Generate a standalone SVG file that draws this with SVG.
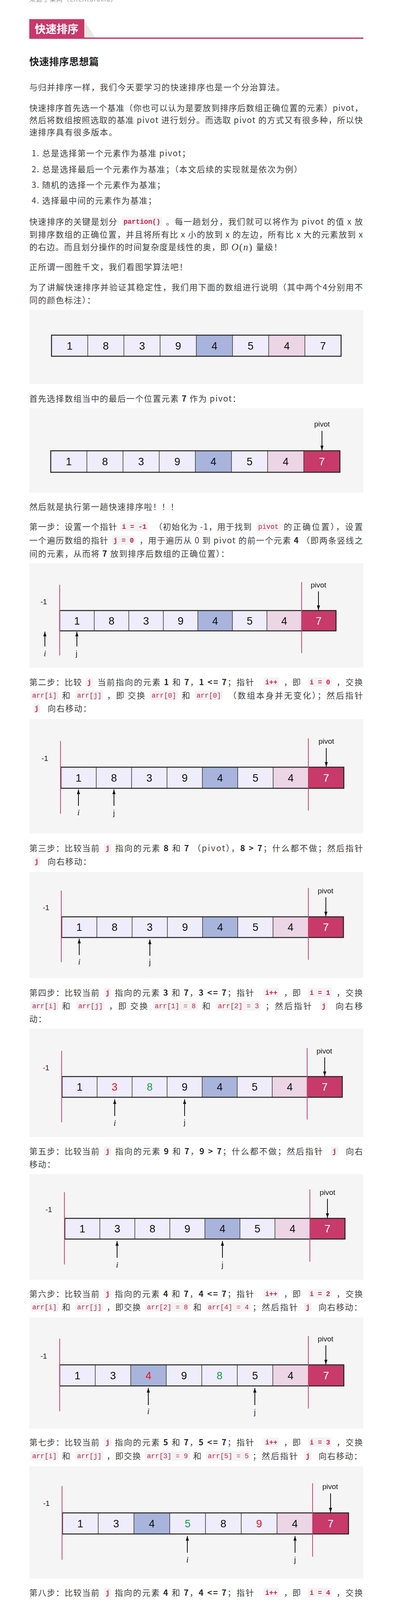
<svg xmlns="http://www.w3.org/2000/svg" width="1007" height="4900" viewBox="0 0 1007 4900">
<defs>
<marker id="ah" markerUnits="userSpaceOnUse" markerWidth="12" markerHeight="8" viewBox="0 0 12 8" refX="12" refY="4" orient="auto"><path d="M0,0 L12,4 L0,8 z" fill="#111"/></marker>
</defs>
<style>
.t{font-family:"Noto Sans CJK SC","Liberation Sans",sans-serif;font-size:21px;fill:#3f3f3f;letter-spacing:1.6px}
.b{font-weight:bold;fill:#2b2b2b}
.cb{fill:#f3f3f3}
.c{font-family:"Liberation Mono","DejaVu Sans Mono",monospace;font-size:17.5px;fill:#c7254e}
.cbd{font-weight:bold}
.box{fill:#f5f5f5}
.cl{fill:#efedfc}.cbl{fill:#a8b4dc}.cp{fill:#ecd5e4}.cc{fill:#c83a69}
.sep{stroke:#333;stroke-width:1.5;fill:none}
.edge{fill:none;stroke:#222;stroke-width:2.5}
.num{font-family:"Liberation Sans",Arial,sans-serif;font-size:27px;fill:#111;text-anchor:middle}
.w{fill:#fff}.r{fill:#e8141e}.g{fill:#12a150}
.pl{stroke:#c8466f;stroke-width:2}
.ar{stroke:#111;stroke-width:2;marker-end:url(#ah)}
.lb{font-family:"Liberation Sans",Arial,sans-serif;font-size:19px;fill:#222;text-anchor:middle}
.li{font-family:"Liberation Serif",serif;font-style:italic;font-size:22px;fill:#222;text-anchor:middle}
.lj{font-family:"Liberation Sans",Arial,sans-serif;font-size:20px;fill:#222;text-anchor:middle}
</style>
<rect width="1007" height="4900" fill="#fff"/>

<g id="source"><text class="t" x="75" y="4" style="font-size:16px;fill:#999;letter-spacing:0" textLength="224">来源于某网（LifeAturaxia）</text></g>

<g id="header">
<rect x="75" y="49" width="141" height="50" fill="#c8396a"/>
<polygon points="216,52 244,97 216,97" fill="#ebe7e5"/>
<rect x="75" y="96" width="856" height="3.5" fill="#c8396a"/>
<text x="89" y="85" style="font-family:'Noto Sans CJK SC',sans-serif;font-size:28px;font-weight:bold;fill:#fff">快速排序</text>
</g>

<g id="intro">
<text x="75" y="167" style="font-family:'Noto Sans CJK SC',sans-serif;font-size:25px;font-weight:bold;fill:#222;letter-spacing:0.5px">快速排序思想篇</text>
<text class="t" x="75" y="231">与归并排序一样，我们今天要学习的快速排序也是一个分治算法。</text>
<text class="t" x="75" y="284" textLength="856">快速排序首先选一个基准（你也可以认为是要放到排序后数组正确位置的元素）pivot，</text>
<text class="t" x="75" y="315" textLength="856">然后将数组按照选取的基准 pivot 进行划分。而选取 pivot 的方式又有很多种，所以快</text>
<text class="t" x="75" y="346">速排序具有很多版本。</text>
<text class="t" x="81" y="400">1. 总是选择第一个元素作为基准 pivot；</text>
<text class="t" x="81" y="441">2. 总是选择最后一个元素作为基准；（本文后续的实现就是依次为例）</text>
<text class="t" x="81" y="481">3. 随机的选择一个元素作为基准；</text>
<text class="t" x="81" y="521">4. 选择最中间的元素作为基准；</text>
<text class="t" x="75" y="575">快速排序的关键是划分</text>
<rect class="cb" x="312" y="555" width="103.5" height="24" rx="4"/><text class="c cbd" x="316.5" y="573">partion()</text>
<text class="t" x="425" y="575" textLength="506">。每一趟划分，我们就可以将作为 pivot 的值 x 放</text>
<text class="t" x="75" y="608" textLength="856">到排序数组的正确位置，并且将所有比 x 小的放到 x 的左边，所有比 x 大的元素放到 x</text>
<text class="t" x="75" y="640" textLength="512">的右边。而且划分操作的时间复杂度是线性的奥，即</text>
<text x="593" y="641" style="font-family:'Liberation Serif',serif;font-size:25px;fill:#3f3f3f" textLength="53"><tspan font-style="italic">O</tspan>(<tspan font-style="italic">n</tspan>)</text>
<text class="t" x="656" y="640">量级！</text>
<text class="t" x="75" y="691">正所谓一图胜千文，我们看图学算法吧！</text>
<text class="t" x="75" y="743" textLength="856">为了讲解快速排序并验证其稳定性，我们用下面的数组进行说明（其中两个4分别用不</text>
<text class="t" x="75" y="776">同的颜色标注）：</text>
</g>

<g id="fig1">
<rect class="box" x="75" y="793" width="856" height="190"/>
<rect class="cl" x="132" y="858" width="742" height="54"/>
<rect class="cbl" x="503" y="858" width="92.75" height="54"/>
<rect class="cp" x="688.5" y="858" width="92.75" height="54"/>
<path class="sep" d="M224.75 858V912M317.5 858V912M410.25 858V912M503 858V912M595.75 858V912M688.5 858V912M781.25 858V912"/>
<rect class="edge" x="132" y="858" width="742" height="54"/>
<text class="num" y="894.5"><tspan x="178.4">1</tspan><tspan x="271.1">8</tspan><tspan x="363.9">3</tspan><tspan x="456.6">9</tspan><tspan x="549.4">4</tspan><tspan x="642.1">5</tspan><tspan x="734.9">4</tspan><tspan x="827.6">7</tspan></text>
</g>

<text class="t" x="75" y="1028">首先选择数组当中的最后一个位置元素 <tspan class="b">7</tspan> 作为 pivot：</text>

<g id="fig2">
<rect class="box" x="75" y="1045" width="856" height="216"/>
<rect class="cl" x="130" y="1154" width="741" height="55"/>
<rect class="cbl" x="500.5" y="1154" width="92.6" height="55"/>
<rect class="cp" x="685.75" y="1154" width="92.6" height="55"/>
<rect class="cc" x="778.4" y="1154" width="92.6" height="55"/>
<path class="sep" d="M222.6 1154V1209M315.25 1154V1209M407.9 1154V1209M500.5 1154V1209M593.1 1154V1209M685.75 1154V1209M778.4 1154V1209"/>
<rect class="edge" x="130" y="1154" width="741" height="55"/>
<text class="num" y="1191"><tspan x="176.3">1</tspan><tspan x="268.9">8</tspan><tspan x="361.6">3</tspan><tspan x="454.2">9</tspan><tspan x="546.8">4</tspan><tspan x="639.4">5</tspan><tspan x="732.1">4</tspan><tspan x="824.7" class="w">7</tspan></text>
<text class="lb" x="825" y="1092">pivot</text>
</g>

<text class="t" x="75" y="1305">然后就是执行第一趟快速排序啦！！！</text>

<g id="step1">
<text class="t" x="75" y="1356">第一步：设置一个指针</text>
<rect class="cb" x="308" y="1336" width="72" height="24" rx="4"/><text class="c cbd" x="312.5" y="1354">i = -1</text>
<text class="t" x="395" y="1356" textLength="251">（初始化为 -1，用于找到</text>
<rect class="cb" x="657" y="1336" width="61.5" height="24" rx="4"/><text class="c" x="661.5" y="1354">pivot</text>
<text class="t" x="727" y="1356" textLength="204">的正确位置），设置</text>
<text class="t" x="75" y="1391">一个遍历数组的指针</text>
<rect class="cb" x="286" y="1371" width="61.5" height="24" rx="4"/><text class="c cbd" x="290.5" y="1389">j = 0</text>
<text class="t" x="357" y="1391" textLength="574">，用于遍历从 0 到 pivot 的前一个元素 <tspan class="b">4</tspan> （即两条竖线之</text>
<text class="t" x="75" y="1425">间的元素，从而将 <tspan class="b">7</tspan> 放到排序后数组的正确位置）：</text>
</g>

<g id="fig3">
<rect class="box" x="75" y="1442" width="856" height="267"/>
<rect class="cl" x="153" y="1563" width="708" height="52"/>
<rect class="cbl" x="507" y="1563" width="88.5" height="52"/>
<rect class="cp" x="684" y="1563" width="88.5" height="52"/>
<rect class="cc" x="772.5" y="1563" width="88.5" height="52"/>
<path class="sep" d="M241.5 1563V1615M330 1563V1615M418.5 1563V1615M507 1563V1615M595.5 1563V1615M684 1563V1615M772.5 1563V1615"/>
<rect class="edge" x="153" y="1563" width="708" height="52"/>
<text class="num" y="1598.5"><tspan x="197.25">1</tspan><tspan x="285.75">8</tspan><tspan x="374.25">3</tspan><tspan x="462.75">9</tspan><tspan x="551.25">4</tspan><tspan x="639.75">5</tspan><tspan x="728.25">4</tspan><tspan x="816.75" class="w">7</tspan></text>
<line class="pl" x1="153" y1="1497" x2="153" y2="1678"/>
<line class="pl" x1="773" y1="1490" x2="773" y2="1672"/>
<text class="lb" x="112" y="1547">-1</text>
<text class="lb" x="816" y="1504">pivot</text>
<text class="li" x="115" y="1680">i</text>
<text class="lj" x="196" y="1680">j</text>
</g>

<g id="step2">
<text class="t" x="75" y="1754">第二步：比较</text>
<rect class="cb" x="219" y="1734" width="19.5" height="24" rx="4"/><text class="c cbd" x="223.5" y="1752">j</text>
<text class="t" x="250" y="1754" textLength="402">当前指向的元素 <tspan class="b">1</tspan> 和 <tspan class="b">7</tspan>，<tspan class="b">1 &lt;= 7</tspan>；指针</text>
<rect class="cb" x="675" y="1734" width="40.5" height="24" rx="4"/><text class="c cbd" x="679.5" y="1752">i++</text>
<text class="t" x="727" y="1754">，即</text>
<rect class="cb" x="789" y="1734" width="61.5" height="24" rx="4"/><text class="c cbd" x="793.5" y="1752">i = 0</text>
<text class="t" x="862" y="1754" textLength="69">，交换</text>
<rect class="cb" x="78" y="1768" width="72" height="24" rx="4"/><text class="c" x="82.5" y="1786">arr[i]</text>
<text class="t" x="159" y="1788">和</text>
<rect class="cb" x="193" y="1768" width="72" height="24" rx="4"/><text class="c" x="197.5" y="1786">arr[j]</text>
<text class="t" x="274" y="1788" textLength="99">，即 交换</text>
<rect class="cb" x="384" y="1768" width="72" height="24" rx="4"/><text class="c" x="388.5" y="1786">arr[0]</text>
<text class="t" x="466" y="1788">和</text>
<rect class="cb" x="499" y="1768" width="72" height="24" rx="4"/><text class="c" x="503.5" y="1786">arr[0]</text>
<text class="t" x="585" y="1788" textLength="346">（数组本身并无变化）；然后指针</text>
<rect class="cb" x="84" y="1801" width="19.5" height="24" rx="4"/><text class="c cbd" x="88.5" y="1819">j</text>
<text class="t" x="122" y="1821">向右移动：</text>
</g>

<g id="fig4">
<rect class="box" x="75" y="1841" width="856" height="293"/>
<rect class="cl" x="156" y="1964" width="725" height="54"/>
<rect class="cbl" x="518.5" y="1964" width="90.6" height="54"/>
<rect class="cp" x="699.75" y="1964" width="90.6" height="54"/>
<rect class="cc" x="790.4" y="1964" width="90.6" height="54"/>
<path class="sep" d="M246.6 1964V2018M337.25 1964V2018M427.9 1964V2018M518.5 1964V2018M609.1 1964V2018M699.75 1964V2018M790.4 1964V2018"/>
<rect class="edge" x="156" y="1964" width="725" height="54"/>
<text class="num" y="2000.5"><tspan x="201.3">1</tspan><tspan x="291.9">8</tspan><tspan x="382.6">3</tspan><tspan x="473.2">9</tspan><tspan x="563.8">4</tspan><tspan x="654.4">5</tspan><tspan x="745.1">4</tspan><tspan x="835.7" class="w">7</tspan></text>
<line class="pl" x1="155" y1="1897" x2="155" y2="2083"/>
<line class="pl" x1="790" y1="1890" x2="790" y2="2075"/>
<text class="lb" x="115" y="1948">-1</text>
<text class="lb" x="836" y="1904">pivot</text>
<text class="li" x="201" y="2087">i</text>
<text class="lj" x="292" y="2088">j</text>
</g>

<g id="step3">
<text class="t" x="75" y="2179">第三步：比较当前</text>
<rect class="cb" x="266" y="2159" width="19.5" height="24" rx="4"/><text class="c cbd" x="270.5" y="2177">j</text>
<text class="t" x="295" y="2179" textLength="636">指向的元素 <tspan class="b">8</tspan> 和 <tspan class="b">7</tspan> （pivot），<tspan class="b">8 &gt; 7</tspan>；什么都不做；然后指针</text>
<rect class="cb" x="84" y="2193" width="19.5" height="24" rx="4"/><text class="c cbd" x="88.5" y="2211">j</text>
<text class="t" x="122" y="2213">向右移动：</text>
</g>

<g id="fig5">
<rect class="box" x="75" y="2232" width="856" height="272"/>
<rect class="cl" x="158" y="2347" width="722" height="53"/>
<rect class="cbl" x="519" y="2347" width="90.25" height="53"/>
<rect class="cp" x="699.5" y="2347" width="90.25" height="53"/>
<rect class="cc" x="789.75" y="2347" width="90.25" height="53"/>
<path class="sep" d="M248.25 2347V2400M338.5 2347V2400M428.75 2347V2400M519 2347V2400M609.25 2347V2400M699.5 2347V2400M789.75 2347V2400"/>
<rect class="edge" x="158" y="2347" width="722" height="53"/>
<text class="num" y="2383"><tspan x="203.1">1</tspan><tspan x="293.4">8</tspan><tspan x="383.6">3</tspan><tspan x="473.9">9</tspan><tspan x="564.1">4</tspan><tspan x="654.4">5</tspan><tspan x="744.6">4</tspan><tspan x="834.9" class="w">7</tspan></text>
<line class="pl" x1="157" y1="2280" x2="157" y2="2463"/>
<line class="pl" x1="790" y1="2273" x2="790" y2="2457"/>
<text class="lb" x="118" y="2330">-1</text>
<text class="lb" x="834" y="2287">pivot</text>
<text class="li" x="203" y="2469">i</text>
<text class="lj" x="384" y="2470">j</text>
</g>

<g id="step4">
<text class="t" x="75" y="2549">第四步：比较当前</text>
<rect class="cb" x="266" y="2529" width="19.5" height="24" rx="4"/><text class="c cbd" x="270.5" y="2547">j</text>
<text class="t" x="294" y="2549" textLength="358">指向的元素 <tspan class="b">3</tspan> 和 <tspan class="b">7</tspan>，<tspan class="b">3 &lt;= 7</tspan>；指针</text>
<rect class="cb" x="675" y="2529" width="40.5" height="24" rx="4"/><text class="c cbd" x="679.5" y="2547">i++</text>
<text class="t" x="727" y="2549">，即</text>
<rect class="cb" x="789" y="2529" width="61.5" height="24" rx="4"/><text class="c cbd" x="793.5" y="2547">i = 1</text>
<text class="t" x="862" y="2549" textLength="69">，交换</text>
<rect class="cb" x="78" y="2563" width="72" height="24" rx="4"/><text class="c" x="82.5" y="2581">arr[i]</text>
<text class="t" x="159" y="2583">和</text>
<rect class="cb" x="196" y="2563" width="72" height="24" rx="4"/><text class="c" x="200.5" y="2581">arr[j]</text>
<text class="t" x="279" y="2583" textLength="101">，即 交换</text>
<rect class="cb" x="392" y="2563" width="114" height="24" rx="4"/><text class="c" x="396.5" y="2581">arr[1] = 8</text>
<text class="t" x="518" y="2583">和</text>
<rect class="cb" x="554" y="2563" width="114" height="24" rx="4"/><text class="c" x="558.5" y="2581">arr[2] = 3</text>
<text class="t" x="680" y="2583" textLength="120">；然后指针</text>
<rect class="cb" x="820" y="2563" width="19.5" height="24" rx="4"/><text class="c cbd" x="824.5" y="2581">j</text>
<text class="t" x="860" y="2583" textLength="71">向右移</text>
<text class="t" x="75" y="2616">动：</text>
</g>

<g id="fig6">
<rect class="box" x="75" y="2633" width="856" height="278"/>
<rect class="cl" x="159" y="2756" width="718" height="53"/>
<rect class="cbl" x="518" y="2756" width="89.75" height="53"/>
<rect class="cp" x="697.5" y="2756" width="89.75" height="53"/>
<rect class="cc" x="787.25" y="2756" width="89.75" height="53"/>
<path class="sep" d="M248.75 2756V2809M338.5 2756V2809M428.25 2756V2809M518 2756V2809M607.75 2756V2809M697.5 2756V2809M787.25 2756V2809"/>
<rect class="edge" x="159" y="2756" width="718" height="53"/>
<text class="num" y="2792"><tspan x="203.9">1</tspan><tspan x="293.6" class="r">3</tspan><tspan x="383.4" class="g">8</tspan><tspan x="473.1">9</tspan><tspan x="562.9">4</tspan><tspan x="652.6">5</tspan><tspan x="742.4">4</tspan><tspan x="832.1" class="w">7</tspan></text>
<line class="pl" x1="158" y1="2690" x2="158" y2="2873"/>
<line class="pl" x1="787" y1="2683" x2="787" y2="2866"/>
<text class="lb" x="118" y="2740">-1</text>
<text class="lb" x="831" y="2697">pivot</text>
<text class="li" x="294" y="2882">i</text>
<text class="lj" x="473" y="2880">j</text>
</g>

<g id="step5">
<text class="t" x="75" y="2955">第五步：比较当前</text>
<rect class="cb" x="266" y="2935" width="19.5" height="24" rx="4"/><text class="c cbd" x="270.5" y="2953">j</text>
<text class="t" x="295" y="2955" textLength="533">指向的元素 <tspan class="b">9</tspan> 和 <tspan class="b">7</tspan>，<tspan class="b">9 &gt; 7</tspan>；什么都不做；然后指针</text>
<rect class="cb" x="847" y="2935" width="19.5" height="24" rx="4"/><text class="c cbd" x="851.5" y="2953">j</text>
<text class="t" x="886" y="2955" textLength="45">向右</text>
<text class="t" x="75" y="2988">移动：</text>
</g>

<g id="fig7">
<rect class="box" x="75" y="3006" width="856" height="270"/>
<rect class="cl" x="166" y="3119" width="718" height="53"/>
<rect class="cbl" x="525" y="3119" width="89.75" height="53"/>
<rect class="cp" x="704.5" y="3119" width="89.75" height="53"/>
<rect class="cc" x="794.25" y="3119" width="89.75" height="53"/>
<path class="sep" d="M255.75 3119V3172M345.5 3119V3172M435.25 3119V3172M525 3119V3172M614.75 3119V3172M704.5 3119V3172M794.25 3119V3172"/>
<rect class="edge" x="166" y="3119" width="718" height="53"/>
<text class="num" y="3155"><tspan x="210.9">1</tspan><tspan x="300.6">3</tspan><tspan x="390.4">8</tspan><tspan x="480.1">9</tspan><tspan x="569.9">4</tspan><tspan x="659.6">5</tspan><tspan x="749.4">4</tspan><tspan x="839.1" class="w">7</tspan></text>
<line class="pl" x1="165" y1="3052" x2="165" y2="3237"/>
<line class="pl" x1="794" y1="3045" x2="794" y2="3230"/>
<text class="lb" x="125" y="3103">-1</text>
<text class="lb" x="839" y="3059">pivot</text>
<text class="li" x="300" y="3245">i</text>
<text class="lj" x="570" y="3245">j</text>
</g>

<g id="step6">
<text class="t" x="75" y="3320">第六步：比较当前</text>
<rect class="cb" x="266" y="3300" width="19.5" height="24" rx="4"/><text class="c cbd" x="270.5" y="3318">j</text>
<text class="t" x="294" y="3320" textLength="358">指向的元素 <tspan class="b">4</tspan> 和 <tspan class="b">7</tspan>，<tspan class="b">4 &lt;= 7</tspan>；指针</text>
<rect class="cb" x="675" y="3300" width="40.5" height="24" rx="4"/><text class="c cbd" x="679.5" y="3318">i++</text>
<text class="t" x="727" y="3320">，即</text>
<rect class="cb" x="789" y="3300" width="61.5" height="24" rx="4"/><text class="c cbd" x="793.5" y="3318">i = 2</text>
<text class="t" x="862" y="3320" textLength="69">，交换</text>
<rect class="cb" x="78" y="3334" width="72" height="24" rx="4"/><text class="c" x="82.5" y="3352">arr[i]</text>
<text class="t" x="159" y="3354">和</text>
<rect class="cb" x="193" y="3334" width="72" height="24" rx="4"/><text class="c" x="197.5" y="3352">arr[j]</text>
<text class="t" x="273" y="3354" textLength="89">，即交换</text>
<rect class="cb" x="372" y="3334" width="114" height="24" rx="4"/><text class="c" x="376.5" y="3352">arr[2] = 8</text>
<text class="t" x="495" y="3354">和</text>
<rect class="cb" x="528" y="3334" width="114" height="24" rx="4"/><text class="c" x="532.5" y="3352">arr[4] = 4</text>
<text class="t" x="647" y="3354" textLength="117">；然后指针</text>
<rect class="cb" x="779" y="3334" width="19.5" height="24" rx="4"/><text class="c cbd" x="783.5" y="3352">j</text>
<text class="t" x="816" y="3354">向右移动：</text>
</g>

<g id="fig8">
<rect class="box" x="75" y="3373" width="856" height="284"/>
<rect class="cl" x="153" y="3494" width="728" height="54"/>
<rect class="cbl" x="335" y="3494" width="91" height="54"/>
<rect class="cp" x="699" y="3494" width="91" height="54"/>
<rect class="cc" x="790" y="3494" width="91" height="54"/>
<path class="sep" d="M244 3494V3548M335 3494V3548M426 3494V3548M517 3494V3548M608 3494V3548M699 3494V3548M790 3494V3548"/>
<rect class="edge" x="153" y="3494" width="728" height="54"/>
<text class="num" y="3530.5"><tspan x="198.5">1</tspan><tspan x="289.5">3</tspan><tspan x="380.5" class="r">4</tspan><tspan x="471.5">9</tspan><tspan x="562.5" class="g">8</tspan><tspan x="653.5">5</tspan><tspan x="744.5">4</tspan><tspan x="835.5" class="w">7</tspan></text>
<line class="pl" x1="153" y1="3427" x2="153" y2="3613"/>
<line class="pl" x1="790" y1="3420" x2="790" y2="3606"/>
<text class="lb" x="112" y="3478">-1</text>
<text class="lb" x="834" y="3434">pivot</text>
<text class="li" x="380" y="3620">i</text>
<text class="lj" x="653" y="3622">j</text>
</g>

<g id="step7">
<text class="t" x="75" y="3700">第七步：比较当前</text>
<rect class="cb" x="266" y="3680" width="19.5" height="24" rx="4"/><text class="c cbd" x="270.5" y="3698">j</text>
<text class="t" x="294" y="3700" textLength="358">指向的元素 <tspan class="b">5</tspan> 和 <tspan class="b">7</tspan>，<tspan class="b">5 &lt;= 7</tspan>；指针</text>
<rect class="cb" x="675" y="3680" width="40.5" height="24" rx="4"/><text class="c cbd" x="679.5" y="3698">i++</text>
<text class="t" x="727" y="3700">，即</text>
<rect class="cb" x="789" y="3680" width="61.5" height="24" rx="4"/><text class="c cbd" x="793.5" y="3698">i = 3</text>
<text class="t" x="862" y="3700" textLength="69">，交换</text>
<rect class="cb" x="78" y="3715" width="72" height="24" rx="4"/><text class="c" x="82.5" y="3733">arr[i]</text>
<text class="t" x="159" y="3735">和</text>
<rect class="cb" x="193" y="3715" width="72" height="24" rx="4"/><text class="c" x="197.5" y="3733">arr[j]</text>
<text class="t" x="273" y="3735" textLength="89">，即交换</text>
<rect class="cb" x="372" y="3715" width="114" height="24" rx="4"/><text class="c" x="376.5" y="3733">arr[3] = 9</text>
<text class="t" x="495" y="3735">和</text>
<rect class="cb" x="528" y="3715" width="114" height="24" rx="4"/><text class="c" x="532.5" y="3733">arr[5] = 5</text>
<text class="t" x="647" y="3735" textLength="117">；然后指针</text>
<rect class="cb" x="779" y="3715" width="19.5" height="24" rx="4"/><text class="c cbd" x="783.5" y="3733">j</text>
<text class="t" x="816" y="3735">向右移动：</text>
</g>

<g id="fig9">
<rect class="box" x="75" y="3754" width="856" height="287"/>
<rect class="cl" x="160" y="3873" width="733" height="54"/>
<rect class="cbl" x="343.25" y="3873" width="91.6" height="54"/>
<rect class="cp" x="709.75" y="3873" width="91.6" height="54"/>
<rect class="cc" x="801.4" y="3873" width="91.6" height="54"/>
<path class="sep" d="M251.6 3873V3927M343.25 3873V3927M434.9 3873V3927M526.5 3873V3927M618.1 3873V3927M709.75 3873V3927M801.4 3873V3927"/>
<rect class="edge" x="160" y="3873" width="733" height="54"/>
<text class="num" y="3909.5"><tspan x="205.8">1</tspan><tspan x="297.4">3</tspan><tspan x="389.1">4</tspan><tspan x="480.7" class="g">5</tspan><tspan x="572.3">8</tspan><tspan x="663.9" class="r">9</tspan><tspan x="755.6">4</tspan><tspan x="847.2" class="w">7</tspan></text>
<line class="pl" x1="159" y1="3804" x2="159" y2="3993"/>
<line class="pl" x1="801" y1="3797" x2="801" y2="3985"/>
<text class="lb" x="119" y="3855">-1</text>
<text class="lb" x="846" y="3812">pivot</text>
<text class="li" x="480" y="4000">i</text>
<text class="lj" x="756" y="4000">j</text>
</g>

<g id="step8">
<text class="t" x="75" y="4085">第八步：比较当前</text>
<rect class="cb" x="266" y="4065" width="19.5" height="24" rx="4"/><text class="c cbd" x="270.5" y="4083">j</text>
<text class="t" x="294" y="4085" textLength="358">指向的元素 <tspan class="b">4</tspan> 和 <tspan class="b">7</tspan>，<tspan class="b">4 &lt;= 7</tspan>；指针</text>
<rect class="cb" x="675" y="4065" width="40.5" height="24" rx="4"/><text class="c cbd" x="679.5" y="4083">i++</text>
<text class="t" x="727" y="4085">，即</text>
<rect class="cb" x="789" y="4065" width="61.5" height="24" rx="4"/><text class="c cbd" x="793.5" y="4083">i = 4</text>
<text class="t" x="862" y="4085" textLength="69">，交换</text>
<rect class="cb" x="78" y="4100" width="72" height="24" rx="4"/><text class="c" x="82.5" y="4118">arr[i]</text>
<text class="t" x="159" y="4120">和</text>
<rect class="cb" x="193" y="4100" width="72" height="24" rx="4"/><text class="c" x="197.5" y="4118">arr[j]</text>
<text class="t" x="273" y="4120" textLength="89">，即交换</text>
<rect class="cb" x="372" y="4100" width="114" height="24" rx="4"/><text class="c" x="376.5" y="4118">arr[4] = 8</text>
<text class="t" x="495" y="4120">和</text>
<rect class="cb" x="528" y="4100" width="114" height="24" rx="4"/><text class="c" x="532.5" y="4118">arr[6] = 4</text>
<text class="t" x="647" y="4120" textLength="117">；然后指针</text>
<rect class="cb" x="779" y="4100" width="19.5" height="24" rx="4"/><text class="c cbd" x="783.5" y="4118">j</text>
<text class="t" x="816" y="4120">向右移动：</text>
</g>

<g id="fig10">
<rect class="box" x="75" y="4138" width="856" height="279"/>
<rect class="cl" x="163" y="4253" width="710" height="53"/>
<rect class="cbl" x="340.5" y="4253" width="88.75" height="53"/>
<rect class="cp" x="518" y="4253" width="88.75" height="53"/>
<rect class="cc" x="784.25" y="4253" width="88.75" height="53"/>
<path class="sep" d="M251.75 4253V4306M340.5 4253V4306M429.25 4253V4306M518 4253V4306M606.75 4253V4306M695.5 4253V4306M784.25 4253V4306"/>
<rect class="edge" x="163" y="4253" width="710" height="53"/>
<text class="num" y="4289"><tspan x="207.4">1</tspan><tspan x="296.1">3</tspan><tspan x="384.9">4</tspan><tspan x="473.6">5</tspan><tspan x="562.4" class="r">4</tspan><tspan x="651.1">9</tspan><tspan x="739.9" class="g">8</tspan><tspan x="828.6" class="w">7</tspan></text>
<line class="pl" x1="162" y1="4187" x2="162" y2="4368"/>
<line class="pl" x1="784" y1="4180" x2="784" y2="4362"/>
<text class="lb" x="122" y="4236">-1</text>
<text class="lb" x="828" y="4194">pivot</text>
<text class="li" x="562" y="4376">i</text>
<text class="lj" x="829" y="4377">j</text>
</g>

<g id="step9">
<text class="t" x="75" y="4461" textLength="290">第九步：此时遍历结束，交换</text>
<rect class="cb" x="373" y="4441" width="93" height="24" rx="4"/><text class="c" x="377.5" y="4459">arr[i+1]</text>
<text class="t" x="475" y="4461">和</text>
<rect class="cb" x="508" y="4441" width="187.5" height="24" rx="4"/><text class="c" x="512.5" y="4459">arr[high] = pivot</text>
<text class="t" x="705" y="4461">，即交换 <tspan class="b">9</tspan> 和 <tspan class="b">7</tspan></text>
</g>

<g id="fig11">
<rect class="box" x="75" y="4480" width="856" height="279"/>
<rect class="cl" x="155" y="4595" width="724" height="54"/>
<rect class="cbl" x="336" y="4595" width="90.5" height="54"/>
<rect class="cp" x="517" y="4595" width="90.5" height="54"/>
<rect class="cc" x="607.5" y="4595" width="90.5" height="54"/>
<path class="sep" d="M245.5 4595V4649M336 4595V4649M426.5 4595V4649M517 4595V4649M607.5 4595V4649M698 4595V4649M788.5 4595V4649"/>
<rect class="edge" x="155" y="4595" width="724" height="54"/>
<text class="num" y="4631.5"><tspan x="200.25">1</tspan><tspan x="290.75">3</tspan><tspan x="381.25">4</tspan><tspan x="471.75">5</tspan><tspan x="562.25">4</tspan><tspan x="652.75" class="w">7</tspan><tspan x="743.25">8</tspan><tspan x="833.75">9</tspan></text>
<line class="pl" x1="154" y1="4527" x2="154" y2="4713"/>
<line class="pl" x1="788" y1="4521" x2="788" y2="4707"/>
<text class="lb" x="114" y="4578">-1</text>
<text class="lb" x="651" y="4531">pivot</text>
<text class="li" x="562" y="4718">i</text>
<text class="lj" x="833" y="4718">j</text>
</g>

<g id="outro">
<text class="t" x="75" y="4803">此时第一趟快速排序结束啦，我们确定了最开始选择的 <tspan class="b">pivot</tspan> 的正确位置。</text>
<text class="t" x="75" y="4856" textLength="370">接下就是分别对 <tspan class="b">7</tspan> 左侧比 <tspan class="b">7</tspan> 小的元素</text>
<rect class="cb" x="455" y="4836" width="124.5" height="24" rx="4"/><text class="c" x="459.5" y="4854">[1,3,4,5,4]</text>
<text class="t" x="588" y="4856" textLength="343">，与右侧比 <tspan class="b">7</tspan> 大的元素进行快速排</text>
<text class="t" x="75" y="4890">序，过程和第一趟排序过程一样，此处不再赘述。</text>
</g>

<g id="connectors">
<line class="ar" x1="825" y1="1103" x2="825" y2="1153"/>
<line class="ar" x1="816" y1="1514" x2="816" y2="1562"/>
<line class="ar" x1="115" y1="1655" x2="115" y2="1617"/>
<line class="ar" x1="197" y1="1655" x2="197" y2="1617"/>
<line class="ar" x1="836" y1="1915" x2="836" y2="1963"/>
<line class="ar" x1="201" y1="2063" x2="201" y2="2021"/>
<line class="ar" x1="292" y1="2063" x2="292" y2="2021"/>
<line class="ar" x1="835" y1="2297" x2="835" y2="2346"/>
<line class="ar" x1="203" y1="2445" x2="203" y2="2403"/>
<line class="ar" x1="384" y1="2447" x2="384" y2="2405"/>
<line class="ar" x1="832" y1="2707" x2="832" y2="2755"/>
<line class="ar" x1="294" y1="2857" x2="294" y2="2814"/>
<line class="ar" x1="473" y1="2857" x2="473" y2="2814"/>
<line class="ar" x1="839" y1="3069" x2="839" y2="3118"/>
<line class="ar" x1="300" y1="3220" x2="300" y2="3177"/>
<line class="ar" x1="570" y1="3220" x2="570" y2="3177"/>
<line class="ar" x1="835" y1="3444" x2="835" y2="3493"/>
<line class="ar" x1="380" y1="3597" x2="380" y2="3553"/>
<line class="ar" x1="653" y1="3597" x2="653" y2="3553"/>
<line class="ar" x1="847" y1="3823" x2="847" y2="3872"/>
<line class="ar" x1="480" y1="3975" x2="480" y2="3932"/>
<line class="ar" x1="756" y1="3975" x2="756" y2="3932"/>
<line class="ar" x1="829" y1="4204" x2="829" y2="4252"/>
<line class="ar" x1="562" y1="4352" x2="562" y2="4311"/>
<line class="ar" x1="829" y1="4352" x2="829" y2="4311"/>
<line class="ar" x1="652" y1="4545" x2="652" y2="4594"/>
<line class="ar" x1="562" y1="4693" x2="562" y2="4652"/>
<line class="ar" x1="834" y1="4693" x2="834" y2="4652"/>
</g>
</svg>
